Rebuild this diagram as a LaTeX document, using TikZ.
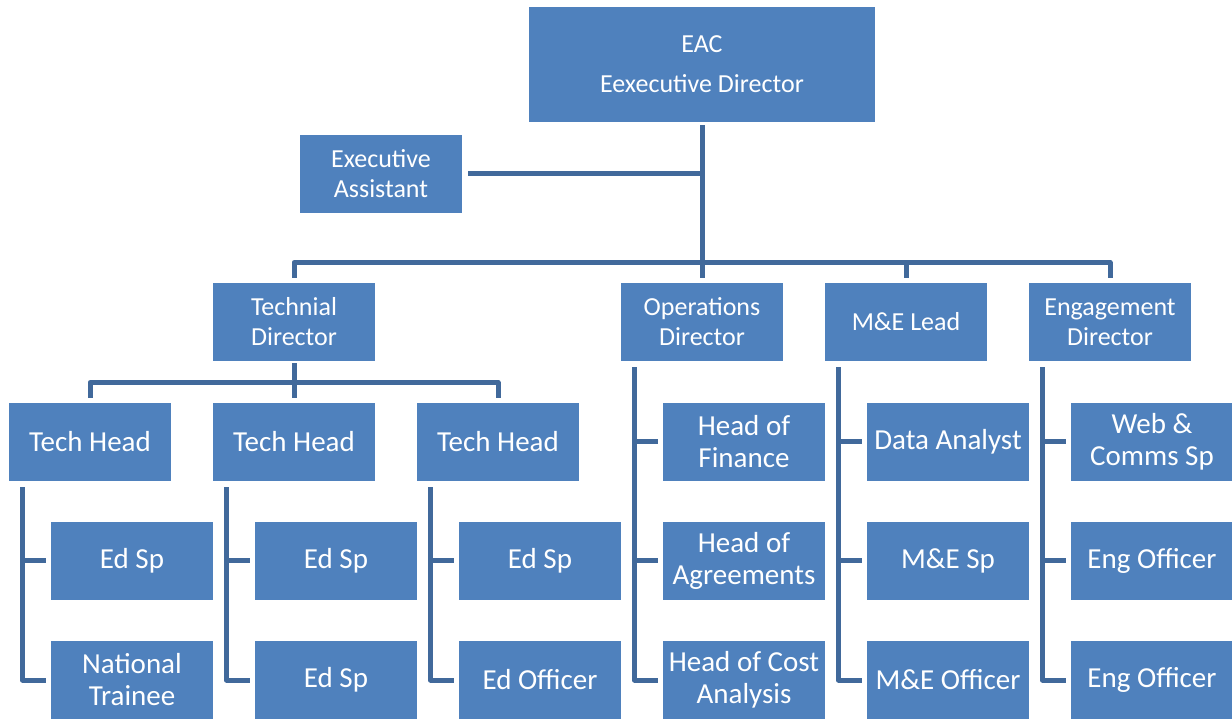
\documentclass[tikz,border=0pt]{standalone}
\usepackage{fontspec}
\setmainfont{Carlito}
\usetikzlibrary{positioning}
\definecolor{boxblue}{HTML}{4F81BD}
\definecolor{lineblue}{HTML}{41699B}

\begin{document}
\begin{tikzpicture}[x=0.5pt,y=-0.5pt,
  box/.style={fill=boxblue,text=white,minimum width=81pt,minimum height=39pt,
    inner sep=1pt,align=center,font=\fontsize{13}{15}\selectfont},
  big/.style={font=\fontsize{14.5}{16}\selectfont},
  link/.style={draw=lineblue,line width=2.5pt,line join=round}]
\useasboundingbox (0,0) rectangle (1232,721);
% top
\node[box,minimum width=173pt,minimum height=57.5pt] (eac) at (702,64.5) {EAC\\[5pt]Eexecutive Director};
\node[box] (ea) at (381,174) {Executive\\Assistant};
% directors
\node[box] (td) at (294,322) {Technial\\Director};
\node[box] (od) at (702,322) {Operations\\Director};
\node[box] (me) at (906,322) {M\&E Lead};
\node[box] (ed) at (1110,322) {Engagement\\Director};
% tech heads and their staff
\node[box,big] (th1) at (90,442) {Tech Head};
\node[box,big] (th2) at (294,442) {Tech Head};
\node[box,big] (th3) at (498,442) {Tech Head};
\node[box,big] (a1) at (132,561) {Ed Sp};
\node[box,big] (b1) at (132,680) {National\\Trainee};
\node[box,big] (a2) at (336,561) {Ed Sp};
\node[box,big] (b2) at (336,680) {Ed Sp};
\node[box,big] (a3) at (540,561) {Ed Sp};
\node[box,big] (b3) at (540,680) {Ed Officer};
% operations
\node[box,big] (o1) at (744,442) {Head of\\Finance};
\node[box,big] (o2) at (744,561) {Head of\\Agreements};
\node[box,big] (o3) at (744,680) {Head of Cost\\Analysis};
% m&e
\node[box,big] (m1) at (948,442) {Data Analyst};
\node[box,big] (m2) at (948,561) {M\&E Sp};
\node[box,big] (m3) at (948,680) {M\&E Officer};
% engagement
\node[box,big] (e1) at (1152,442) {Web \&\\Comms Sp};
\node[box,big] (e2) at (1152,561) {Eng Officer};
\node[box,big] (e3) at (1152,680) {Eng Officer};

% connectors
\draw[link,shorten <=1.5pt,shorten >=2.5pt] (eac.south) -- (od.north);
\draw[link,shorten <=3pt] (ea.east) -- (ea.east -| eac.south);
\draw[link,shorten <=2.5pt,shorten >=2.5pt] (td.north) -- ++(0,-20) -| (ed.north);
\draw[link,shorten >=2.5pt] (me.north) ++(0,-20) -- (me.north);
\draw[link,shorten <=1pt,shorten >=2.5pt] (td.south) -- (th2.north);
\draw[link,shorten <=2.5pt,shorten >=2.5pt] (th1.north) -- ++(0,-20) -| (th3.north);
\foreach \h/\p/\q in {th1/a1/b1,th2/a2/b2,th3/a3/b3,od/o1/o3,me/m1/m3,ed/e1/e3} {
  \draw[link,shorten <=3pt,shorten >=2.5pt] ([xshift=7pt]\h.south west) |- (\q.west);
  \draw[link,shorten >=2.5pt] ([xshift=7pt]\h.south west |- \p.west) -- (\p.west);
}
\draw[link,shorten >=2.5pt] ([xshift=7pt]od.south west |- o2.west) -- (o2.west);
\draw[link,shorten >=2.5pt] ([xshift=7pt]me.south west |- m2.west) -- (m2.west);
\draw[link,shorten >=2.5pt] ([xshift=7pt]ed.south west |- e2.west) -- (e2.west);
\end{tikzpicture}
\end{document}
